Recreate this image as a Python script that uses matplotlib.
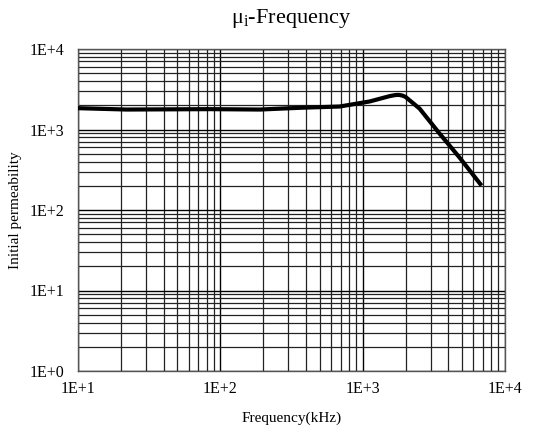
import matplotlib
matplotlib.use("Agg")
import matplotlib.pyplot as plt
from matplotlib.ticker import LogLocator, NullFormatter

plt.rcParams['font.family'] = ['Liberation Serif', 'DejaVu Serif']
plt.rcParams['mathtext.fontset'] = 'custom'
plt.rcParams['mathtext.rm'] = 'Liberation Serif'
plt.rcParams['mathtext.it'] = 'Liberation Serif:italic'

freq_khz = [10, 22, 84, 190, 360, 690, 1120, 1550, 1700, 1800, 1900, 2000, 2140, 2510, 3470, 4790, 6840]
mu_i = [1840, 1770, 1790, 1770, 1860, 1930, 2230, 2600, 2680, 2690, 2640, 2540, 2300, 1820, 890, 449, 201]

xticks = [1e1, 1e2, 1e3, 1e4]
xtick_labels = ["1E+1", "1E+2", "1E+3", "1E+4"]
yticks = [1e0, 1e1, 1e2, 1e3, 1e4]
ytick_labels = ["1E+0", "1E+1", "1E+2", "1E+3", "1E+4"]

fig = plt.figure(figsize=(5.51, 4.32), dpi=100)
ax = fig.add_axes([78/551, 1-371/432, (505-78)/551, (371-49)/432])
ax.set_xscale('log')
ax.set_yscale('log')
ax.set_xlim(1e1, 1e4)
ax.set_ylim(1e0, 1e4)

ax.plot(freq_khz, mu_i, color='black', lw=3.0, solid_capstyle='butt',
        solid_joinstyle='round', zorder=3)

ax.set_xticks(xticks)
ax.set_xticklabels(xtick_labels)
ax.set_yticks(yticks)
ax.set_yticklabels(ytick_labels)
ax.xaxis.set_minor_locator(LogLocator(base=10, subs=range(2, 10)))
ax.yaxis.set_minor_locator(LogLocator(base=10, subs=range(2, 10)))
ax.xaxis.set_minor_formatter(NullFormatter())
ax.yaxis.set_minor_formatter(NullFormatter())
ax.grid(which='major', color='black', lw=1.0)
ax.grid(which='minor', color='#222222', lw=0.9)
ax.tick_params(which='both', length=0, labelsize=11.5)
ax.tick_params(axis='x', pad=7)
ax.tick_params(axis='y', pad=10)
for s in ax.spines.values():
    s.set_color('#555555')
    s.set_linewidth(1.0)

ax.set_title(r"μ$_\mathregular{i}$-Frequency", fontsize=16, pad=19)
ax.set_xlabel("Frequency(kHz)", fontsize=11, labelpad=11)
ax.set_ylabel("Initial permeability", fontsize=11, labelpad=5)

fig.savefig("out.png", dpi=100)
